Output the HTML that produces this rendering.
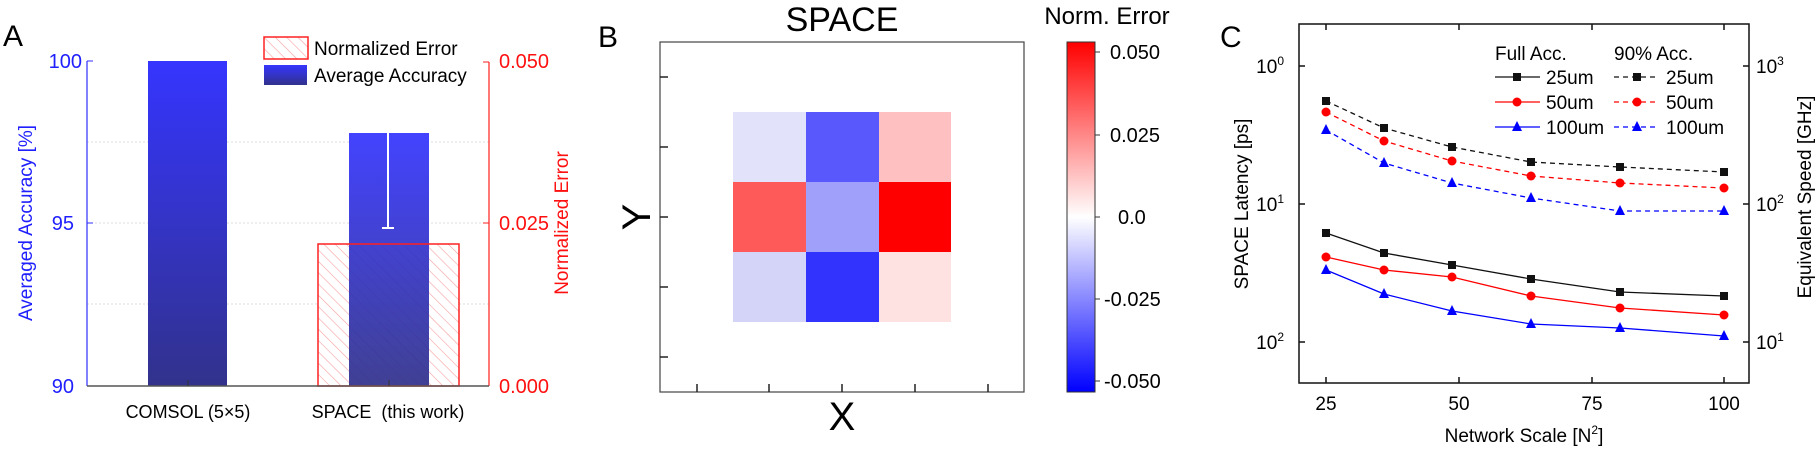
<!DOCTYPE html>
<html><head><meta charset="utf-8"><style>
html,body{margin:0;padding:0;background:#fff;}
svg{display:block;font-family:"Liberation Sans",Arial,sans-serif;}
</style></head><body>
<svg width="1818" height="450" viewBox="0 0 1818 450" xmlns="http://www.w3.org/2000/svg">
<defs>
<linearGradient id="bar" x1="0" y1="0" x2="0" y2="1">
<stop offset="0" stop-color="#3535ff"/><stop offset="1" stop-color="#32328c"/>
</linearGradient>
<pattern id="hatch" width="8" height="8" patternUnits="userSpaceOnUse" patternTransform="rotate(-45)">
<rect width="8" height="8" fill="#fff"/>
<line x1="0" y1="0" x2="0" y2="8" stroke="#f5a0a0" stroke-width="1.2"/>
</pattern>
<linearGradient id="cb" x1="0" y1="0" x2="0" y2="1">
<stop offset="0" stop-color="#ff0000"/><stop offset="0.5" stop-color="#ffffff"/><stop offset="1" stop-color="#0000ff"/>
</linearGradient>
</defs>

<!-- Panel A -->
<text x="3" y="46" font-size="30">A</text>
<line x1="87" y1="142" x2="489" y2="142" stroke="#ddd" stroke-dasharray="2,2"/>
<line x1="87" y1="223" x2="489" y2="223" stroke="#ddd" stroke-dasharray="2,2"/>
<line x1="87" y1="304" x2="489" y2="304" stroke="#ddd" stroke-dasharray="2,2"/>
<rect x="148" y="61" width="79" height="325" fill="url(#bar)"/>
<rect x="318" y="244" width="141" height="142" fill="url(#hatch)"/>
<rect x="349" y="133" width="80" height="253" fill="url(#bar)" opacity="0.93"/>
<rect x="318" y="244" width="141" height="142" fill="none" stroke="#ff2020" stroke-width="1.5"/>
<line x1="388" y1="133" x2="388" y2="228" stroke="#fff" stroke-width="2"/>
<line x1="382" y1="228" x2="394" y2="228" stroke="#fff" stroke-width="2"/>
<line x1="87" y1="61" x2="87" y2="386" stroke="#3030ff" stroke-width="1.2"/>
<line x1="87" y1="61" x2="93" y2="61" stroke="#3030ff"/><line x1="87" y1="223" x2="93" y2="223" stroke="#3030ff"/>
<line x1="489" y1="62" x2="489" y2="386" stroke="#ff2020" stroke-width="1.2"/>
<line x1="483" y1="62" x2="489" y2="62" stroke="#ff2020"/><line x1="483" y1="223" x2="489" y2="223" stroke="#ff2020"/>
<line x1="87" y1="386" x2="489" y2="386" stroke="#555" stroke-width="1.5"/>
<line x1="188" y1="380" x2="188" y2="386" stroke="#333"/><line x1="389" y1="380" x2="389" y2="386" stroke="#333"/>
<g fill="#2020ff" font-size="20" text-anchor="end">
<text x="82" y="68">100</text><text x="74" y="230">95</text><text x="74" y="393">90</text>
</g>
<g fill="#ff1010" font-size="20">
<text x="499" y="68">0.050</text><text x="499" y="230">0.025</text><text x="499" y="393">0.000</text>
</g>
<text transform="translate(32,223) rotate(-90)" fill="#2020ff" font-size="19" text-anchor="middle">Averaged Accuracy [%]</text>
<text transform="translate(568,223) rotate(-90)" fill="#ff1010" font-size="19" text-anchor="middle">Normalized Error</text>
<text x="188" y="418" font-size="18" text-anchor="middle">COMSOL (5×5)</text>
<text x="388" y="418" font-size="18" text-anchor="middle" xml:space="preserve">SPACE  (this work)</text>
<rect x="264" y="37" width="44" height="22" fill="url(#hatch)" stroke="#ff2020" stroke-width="1.5"/>
<text x="314" y="55" font-size="19">Normalized Error</text>
<rect x="264" y="65" width="43" height="20" fill="url(#bar)"/>
<text x="314" y="82" font-size="19">Average Accuracy</text>

<!-- Panel B -->
<text x="598" y="47" font-size="30">B</text>
<text x="842" y="31" font-size="34" text-anchor="middle">SPACE</text>
<rect x="733" y="112" width="73" height="70" fill="#e2e2fb"/>
<rect x="806" y="112" width="73" height="70" fill="#5858fd"/>
<rect x="879" y="112" width="72" height="70" fill="#fec0c0"/>
<rect x="733" y="182" width="73" height="70" fill="#fe5a5a"/>
<rect x="806" y="182" width="73" height="70" fill="#a0a0fb"/>
<rect x="879" y="182" width="72" height="70" fill="#ff0000"/>
<rect x="733" y="252" width="73" height="70" fill="#d4d4f9"/>
<rect x="806" y="252" width="73" height="70" fill="#3333fe"/>
<rect x="879" y="252" width="72" height="70" fill="#fee2e2"/>
<rect x="660" y="42" width="364" height="350" fill="none" stroke="#444" stroke-width="1.2"/>
<g stroke="#222" stroke-width="1.5">
<line x1="697" y1="392" x2="697" y2="384"/><line x1="769" y1="392" x2="769" y2="384"/><line x1="842" y1="392" x2="842" y2="384"/><line x1="915" y1="392" x2="915" y2="384"/><line x1="988" y1="392" x2="988" y2="384"/>
<line x1="660" y1="77" x2="668" y2="77"/><line x1="660" y1="147" x2="668" y2="147"/><line x1="660" y1="217" x2="668" y2="217"/><line x1="660" y1="287" x2="668" y2="287"/><line x1="660" y1="357" x2="668" y2="357"/>
</g>
<text x="842" y="430" font-size="40" text-anchor="middle">X</text>
<text transform="translate(650,217) rotate(-90)" font-size="40" text-anchor="middle">Y</text>
<text x="1107" y="24" font-size="24" text-anchor="middle">Norm. Error</text>
<rect x="1067" y="42" width="28" height="350" fill="url(#cb)" stroke="#333" stroke-width="1"/>
<g stroke="#333"><line x1="1095" y1="52" x2="1100" y2="52"/><line x1="1095" y1="135" x2="1100" y2="135"/><line x1="1095" y1="217" x2="1100" y2="217"/><line x1="1095" y1="299" x2="1100" y2="299"/><line x1="1095" y1="381" x2="1100" y2="381"/></g>
<g font-size="20">
<text x="1110" y="59">0.050</text><text x="1110" y="142">0.025</text><text x="1118" y="224">0.0</text><text x="1104" y="306">-0.025</text><text x="1104" y="388">-0.050</text>
</g>

<!-- Panel C -->
<text x="1220" y="47" font-size="30">C</text>
<rect x="1299" y="24" width="450" height="359" fill="none" stroke="#111" stroke-width="1.5"/>
<g stroke="#111" stroke-width="1.5">
<line x1="1326" y1="383" x2="1326" y2="377"/><line x1="1459" y1="383" x2="1459" y2="377"/><line x1="1592" y1="383" x2="1592" y2="377"/><line x1="1724" y1="383" x2="1724" y2="377"/>
<line x1="1326" y1="24" x2="1326" y2="30"/><line x1="1459" y1="24" x2="1459" y2="30"/><line x1="1592" y1="24" x2="1592" y2="30"/><line x1="1724" y1="24" x2="1724" y2="30"/>
<line x1="1299" y1="66" x2="1305" y2="66"/><line x1="1299" y1="204" x2="1305" y2="204"/><line x1="1299" y1="342" x2="1305" y2="342"/>
<line x1="1749" y1="66" x2="1743" y2="66"/><line x1="1749" y1="204" x2="1743" y2="204"/><line x1="1749" y1="342" x2="1749" y2="342"/><line x1="1749" y1="342" x2="1743" y2="342"/>
</g>
<g font-size="19" text-anchor="middle">
<text x="1326" y="410">25</text><text x="1459" y="410">50</text><text x="1592" y="410">75</text><text x="1724" y="410">100</text>
</g>
<g font-size="19" text-anchor="end">
<text x="1284" y="73">10<tspan dy="-8" font-size="12">0</tspan></text>
<text x="1284" y="211">10<tspan dy="-8" font-size="12">1</tspan></text>
<text x="1284" y="349">10<tspan dy="-8" font-size="12">2</tspan></text>
</g>
<g font-size="19">
<text x="1756" y="73">10<tspan dy="-8" font-size="12">3</tspan></text>
<text x="1756" y="211">10<tspan dy="-8" font-size="12">2</tspan></text>
<text x="1756" y="349">10<tspan dy="-8" font-size="12">1</tspan></text>
</g>
<text x="1524" y="442" font-size="19" text-anchor="middle">Network Scale [N<tspan dy="-8" font-size="12">2</tspan><tspan dy="8">]</tspan></text>
<text transform="translate(1248,204) rotate(-90)" font-size="19" text-anchor="middle">SPACE Latency [ps]</text>
<text transform="translate(1811,197) rotate(-90)" font-size="19" text-anchor="middle">Equivalent Speed [GHz]</text>

<!-- series: x 25,36,49,64,81,100 -> 1326,1384,1452,1531,1620,1724 -->
<g fill="none" stroke-width="1.3">
<polyline stroke="#111" stroke-dasharray="5,4" points="1326,101 1384,128 1452,147 1531,162 1620,167 1724,172"/>
<polyline stroke="#f00" stroke-dasharray="5,4" points="1326,112 1384,141 1452,161 1531,176 1620,183 1724,188"/>
<polyline stroke="#00f" stroke-dasharray="5,4" points="1326,130 1384,163 1452,183 1531,198 1620,211 1724,211"/>
<polyline stroke="#111" points="1326,233 1384,253 1452,265 1531,279 1620,292 1724,296"/>
<polyline stroke="#f00" points="1326,257 1384,270 1452,277 1531,296 1620,308 1724,315"/>
<polyline stroke="#00f" points="1326,270 1384,294 1452,311 1531,324 1620,328 1724,336"/>
</g>
<g fill="#111">
<rect x="1322" y="97" width="8" height="8"/><rect x="1380" y="124" width="8" height="8"/><rect x="1448" y="143" width="8" height="8"/><rect x="1527" y="158" width="8" height="8"/><rect x="1616" y="163" width="8" height="8"/><rect x="1720" y="168" width="8" height="8"/>
<rect x="1322" y="229" width="8" height="8"/><rect x="1380" y="249" width="8" height="8"/><rect x="1448" y="261" width="8" height="8"/><rect x="1527" y="275" width="8" height="8"/><rect x="1616" y="288" width="8" height="8"/><rect x="1720" y="292" width="8" height="8"/>
<rect x="1513" y="73" width="8" height="8"/><rect x="1633" y="73" width="8" height="8"/>
</g>
<g fill="#f00">
<circle cx="1326" cy="112" r="4.5"/><circle cx="1384" cy="141" r="4.5"/><circle cx="1452" cy="161" r="4.5"/><circle cx="1531" cy="176" r="4.5"/><circle cx="1620" cy="183" r="4.5"/><circle cx="1724" cy="188" r="4.5"/>
<circle cx="1326" cy="257" r="4.5"/><circle cx="1384" cy="270" r="4.5"/><circle cx="1452" cy="277" r="4.5"/><circle cx="1531" cy="296" r="4.5"/><circle cx="1620" cy="308" r="4.5"/><circle cx="1724" cy="315" r="4.5"/>
<circle cx="1517" cy="102" r="4.5"/><circle cx="1637" cy="102" r="4.5"/>
</g>
<g fill="#00f">
<polygon points="1326,124 1331,134 1321,134"/><polygon points="1384,157 1389,167 1379,167"/><polygon points="1452,177 1457,187 1447,187"/><polygon points="1531,192 1536,202 1526,202"/><polygon points="1620,205 1625,215 1615,215"/><polygon points="1724,205 1729,215 1719,215"/>
<polygon points="1326,264 1331,274 1321,274"/><polygon points="1384,288 1389,298 1379,298"/><polygon points="1452,305 1457,315 1447,315"/><polygon points="1531,318 1536,328 1526,328"/><polygon points="1620,322 1625,332 1615,332"/><polygon points="1724,330 1729,340 1719,340"/>
<polygon points="1517,121 1522,131 1512,131"/><polygon points="1637,121 1642,131 1632,131"/>
</g>
<g stroke-width="1.3">
<line x1="1495" y1="77" x2="1540" y2="77" stroke="#111"/>
<line x1="1495" y1="102" x2="1540" y2="102" stroke="#f00"/>
<line x1="1495" y1="127" x2="1540" y2="127" stroke="#00f"/>
<line x1="1614" y1="77" x2="1659" y2="77" stroke="#111" stroke-dasharray="5,4"/>
<line x1="1614" y1="102" x2="1659" y2="102" stroke="#f00" stroke-dasharray="5,4"/>
<line x1="1614" y1="127" x2="1659" y2="127" stroke="#00f" stroke-dasharray="5,4"/>
</g>
<g font-size="19">
<text x="1495" y="60">Full Acc.</text><text x="1614" y="60">90% Acc.</text>
<text x="1546" y="84">25um</text><text x="1546" y="109">50um</text><text x="1546" y="134">100um</text>
<text x="1666" y="84">25um</text><text x="1666" y="109">50um</text><text x="1666" y="134">100um</text>
</g>
</svg>
</body></html>
